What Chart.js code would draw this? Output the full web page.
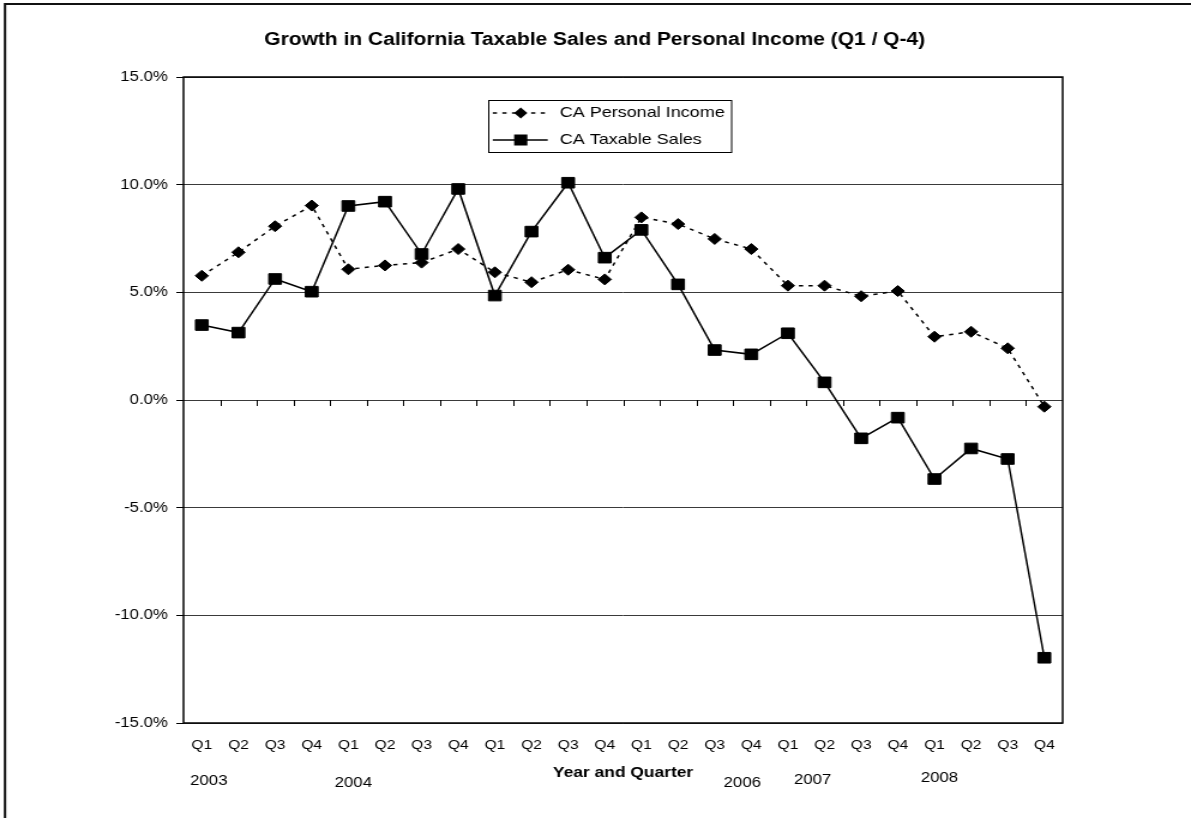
<!DOCTYPE html>
<html><head><meta charset="utf-8">
<script src="https://cdn.jsdelivr.net/npm/chart.js@4/dist/chart.umd.min.js"></script>
<style>html,body{margin:0;padding:0;background:#fff;overflow:hidden}
#c{display:block}</style>
</head><body>
<canvas id="c" width="993" height="818" style="width:1191px;height:818px"></canvas>
<script>
// ---- data ----
const categories = ['Q1','Q2','Q3','Q4','Q1','Q2','Q3','Q4','Q1','Q2','Q3','Q4',
                    'Q1','Q2','Q3','Q4','Q1','Q2','Q3','Q4','Q1','Q2','Q3','Q4'];
const yearLabels = ['2003','2004','2006','2007','2008'];
const personalIncome = [5.77, 6.86, 8.07, 9.03, 6.07, 6.25, 6.38, 7.01, 5.93, 5.47, 6.05, 5.60,
                        8.48, 8.17, 7.48, 7.01, 5.31, 5.31, 4.82, 5.06, 2.94, 3.17, 2.40, -0.31];
const taxableSales = [3.48, 3.13, 5.62, 5.03, 9.01, 9.21, 6.78, 9.80, 4.85, 7.82, 10.09, 6.61,
                      7.90, 5.37, 2.32, 2.12, 3.10, 0.82, -1.78, -0.82, -3.67, -2.25, -2.74, -11.97];
const yTicks = [-15, -10, -5, 0, 5, 10, 15];
const seriesNames = ['CA Personal Income', 'CA Taxable Sales'];
const titleText = 'Growth in California Taxable Sales and Personal Income (Q1 / Q-4)';
const xAxisTitle = 'Year and Quarter';

// ---- layout helpers ----
const SX = 1.2;               // horizontal stretch of the original picture
const px = v => v / SX;       // screen x -> canvas x
const FONT = '"Liberation Sans", Arial, Helvetica, sans-serif';
const yearAnchor = [0, 4, 15, 17, 20];
const yearShift = [7, 5, -9, -12, 5];
const yearY = [781, 783, 783, 780, 778];

const decor = {
  id: 'decor',
  beforeDraw(chart) {
    const c = chart.ctx;
    c.save(); c.fillStyle = '#fff'; c.fillRect(0, 0, chart.width, chart.height); c.restore();
  },
  afterDraw(chart) {
    const c = chart.ctx, a = chart.chartArea, xs = chart.scales.x, ys = chart.scales.y;
    c.save();
    // plot border
    c.strokeStyle = '#000'; c.lineWidth = 1.5;
    c.strokeRect(a.left, a.top, a.right - a.left, a.bottom - a.top);
    // tick marks on zero line between categories
    const y0 = ys.getPixelForValue(0);
    c.lineWidth = 1;
    c.beginPath();
    for (let i = 1; i < categories.length; i++) {
      const x = (xs.getPixelForValue(i - 1) + xs.getPixelForValue(i)) / 2;
      c.moveTo(Math.round(x) + 0.5, y0); c.lineTo(Math.round(x) + 0.5, y0 + 6);
    }
    c.stroke();
    // title
    c.fillStyle = '#000'; c.textAlign = 'center'; c.textBaseline = 'middle';
    c.font = 'bold 17.5px ' + FONT;
    c.fillText(titleText, px(595), 40);
    // axis title
    c.font = 'bold 14.5px ' + FONT;
    c.fillText(xAxisTitle, (a.left + a.right) / 2, 773);
    // year labels
    c.font = '14px ' + FONT;
    yearLabels.forEach((t, i) => {
      c.fillText(t, xs.getPixelForValue(yearAnchor[i]) + px(yearShift[i]), yearY[i]);
    });
    // legend
    const lx0 = px(488), lx1 = px(731), ly0 = 100, ly1 = 152;
    c.fillStyle = '#fff'; c.fillRect(lx0, ly0, lx1 - lx0, ly1 - ly0);
    c.strokeStyle = '#000'; c.lineWidth = 1;
    c.strokeRect(Math.round(lx0) + 0.5, ly0 + 0.5, lx1 - lx0, ly1 - ly0);
    const rows = [113, 140];
    const sx0 = px(493), sx1 = px(548), mx = px(521);
    // row 1 dashed + diamond
    c.lineWidth = 1.5; c.setLineDash([3.5, 4.5]);
    c.beginPath(); c.moveTo(sx0, rows[0]); c.lineTo(sx1, rows[0]); c.stroke();
    c.setLineDash([]);
    c.fillStyle = '#000';
    c.beginPath();
    c.moveTo(mx, rows[0] - 5.5); c.lineTo(mx + 5.5, rows[0]); c.lineTo(mx, rows[0] + 5.5); c.lineTo(mx - 5.5, rows[0]);
    c.closePath(); c.fill();
    // row 2 solid + square
    c.beginPath(); c.moveTo(sx0, rows[1]); c.lineTo(sx1, rows[1]); c.stroke();
    c.fillRect(mx - 5.5, rows[1] - 5.5, 11, 11);
    c.font = '15px ' + FONT; c.textAlign = 'left';
    c.fillText(seriesNames[0], px(560), rows[0]);
    c.fillText(seriesNames[1], px(560), rows[1]);
    // outer frame (top & left)
    c.lineWidth = 2; c.strokeStyle = '#111';
    c.beginPath(); c.moveTo(px(5), chart.height); c.lineTo(px(5), 4); c.lineTo(chart.width + 5, 4); c.stroke();
    c.restore();
  }
};

new Chart(document.getElementById('c'), {
  type: 'line',
  data: {
    labels: categories,
    datasets: [
      { label: seriesNames[0], data: personalIncome, borderColor: '#000', borderWidth: 1.5,
        borderDash: [3.5, 4.5], pointStyle: 'rectRot', pointRadius: 5.5, pointHoverRadius: 5.5,
        pointBackgroundColor: '#000', pointBorderColor: '#000', pointBorderWidth: 1, tension: 0, fill: false },
      { label: seriesNames[1], data: taxableSales, borderColor: '#000', borderWidth: 1.5,
        pointStyle: 'rect', pointRadius: 7.5, pointHoverRadius: 7.5,
        pointBackgroundColor: '#000', pointBorderColor: '#000', pointBorderWidth: 1, tension: 0, fill: false }
    ]
  },
  options: {
    responsive: false, animation: false, devicePixelRatio: 1,
    layout: { padding: { left: 0, top: 77, right: 993 - Math.round(px(1063)), bottom: 0 } },
    plugins: { legend: { display: false }, title: { display: false }, tooltip: { enabled: false } },
    events: [],
    scales: {
      x: {
        type: 'category', offset: true,
        grid: { display: false, drawTicks: false },
        border: { display: false },
        ticks: { color: '#000', font: { family: FONT, size: 13 }, padding: 15, autoSkip: false, maxRotation: 0 },
        afterFit(s) { s.height = 95; }
      },
      y: {
        min: -15, max: 15,
        afterBuildTicks(s) { s.ticks = yTicks.map(v => ({ value: v })); },
        grid: { color: '#3a3a3a', lineWidth: 1, tickLength: 6, tickColor: '#000' },
        border: { display: false },
        ticks: { color: '#000', font: { family: FONT, size: 14 }, padding: 7,
                 callback: v => Number(v).toFixed(1) + '%' },
        afterFit(s) { s.width = Math.round(px(183)); }
      }
    }
  },
  plugins: [decor]
});
</script>
</body></html>
